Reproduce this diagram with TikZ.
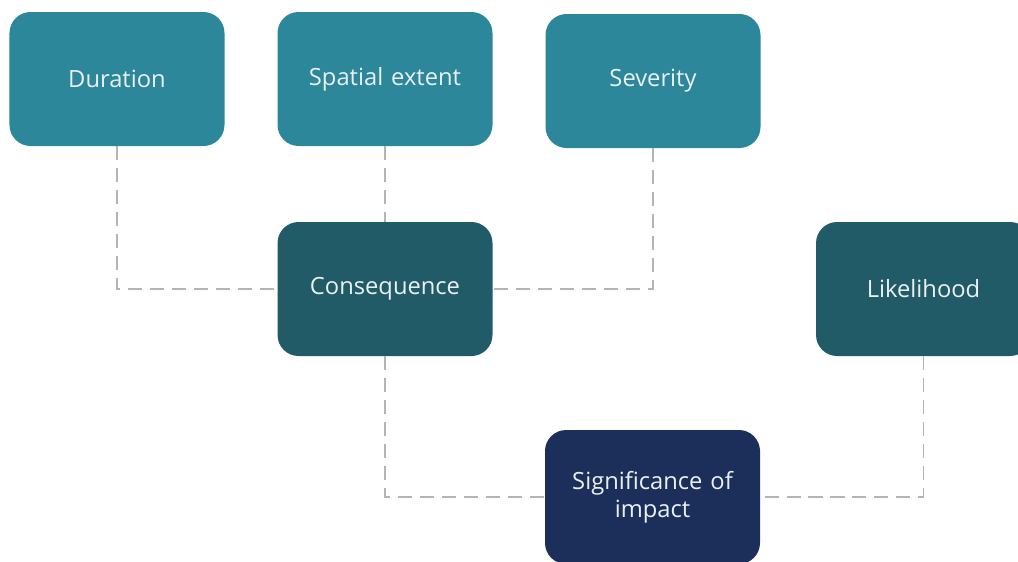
\documentclass[tikz,border=0pt]{standalone}
\usepackage{fontspec}
\setmainfont{Open Sans}
\usepackage{xcolor}
\usepackage{tikz}
\usetikzlibrary{positioning}
\definecolor{tealtop}{HTML}{2B8799}
\definecolor{tealmid}{HTML}{225B68}
\definecolor{navybox}{HTML}{1C2F5A}
\definecolor{linkgray}{HTML}{B4B4B4}
\definecolor{boxtext}{HTML}{EAF0F2}

\begin{document}
\begin{tikzpicture}[font=\fontsize{13.5}{16}\selectfont,
 box/.style={rounded corners=12pt,minimum width=4.3cm,minimum height=2.68cm,text width=3.9cm,align=center,inner sep=2pt,text=boxtext},
 top/.style={box,fill=tealtop},
 mid/.style={box,fill=tealmid},
 res/.style={box,fill=navybox},
 link/.style={draw=linkgray,line width=1.1pt,dash pattern=on 8pt off 4.5pt}]
\useasboundingbox (0,0) rectangle (20.36,-11.22);
\node[top] (dur) at (2.34,-1.58) {Duration};
\node[top] (spa) at (7.70,-1.58) {Spatial extent};
\node[top] (sev) at (13.06,-1.62) {Severity};
\node[mid] (con) at (7.70,-5.78) {Consequence};
\node[mid] (lik) at (18.47,-5.78) {Likelihood};
\node[res] (sig) at (13.05,-9.94) {Significance of\\ impact};
% links into consequence
\draw[link] (dur.south) |- (con.west);
\draw[link] (spa.south) -- (con.north);
\draw[link] (sev.south) |- (con.east);
% links into significance
\draw[link] (con.south) |- (sig.west);
\draw[link] (lik.south) |- (sig.east);
\end{tikzpicture}
\end{document}
